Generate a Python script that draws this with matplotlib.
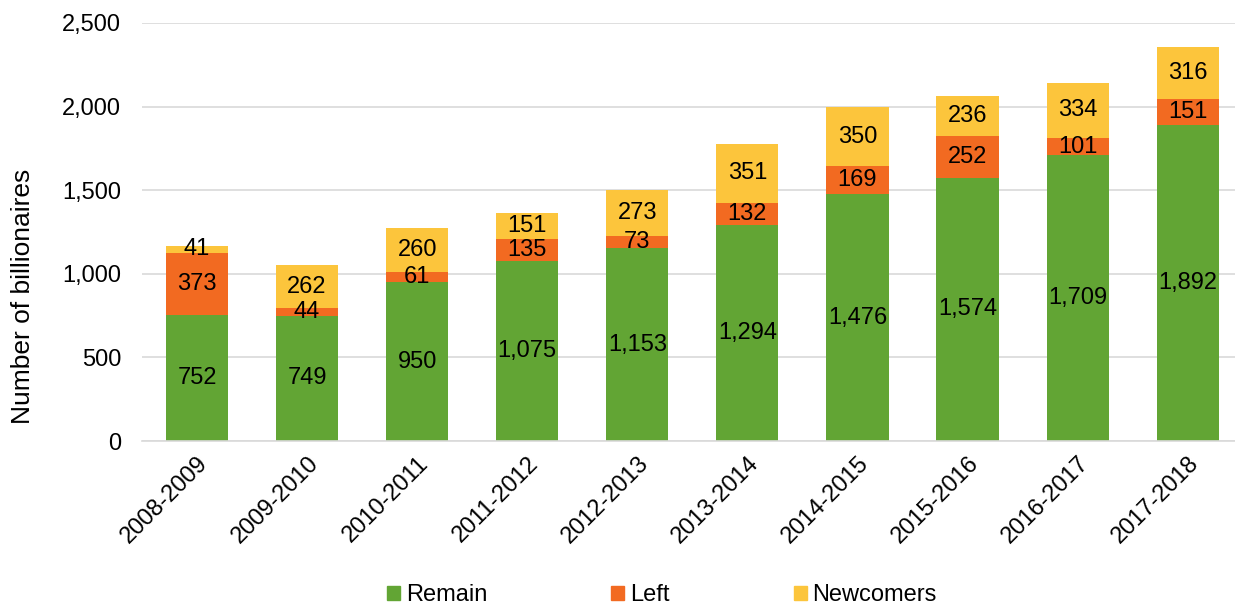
import matplotlib
matplotlib.use("Agg")
import matplotlib.pyplot as plt
from matplotlib.patches import Patch

periods = ["2008-2009", "2009-2010", "2010-2011", "2011-2012", "2012-2013",
           "2013-2014", "2014-2015", "2015-2016", "2016-2017", "2017-2018"]
remain = [752, 749, 950, 1075, 1153, 1294, 1476, 1574, 1709, 1892]
left = [373, 44, 61, 135, 73, 132, 169, 252, 101, 151]
newcomers = [41, 262, 260, 151, 273, 351, 350, 236, 334, 316]

c_remain = "#62A534"
c_left = "#F26A21"
c_new = "#FCC53C"

plt.rcParams['font.family'] = ['Liberation Sans', 'DejaVu Sans']

fig = plt.figure(figsize=(12.35, 6.08), dpi=100)
ax = fig.add_axes([142/1235, (608-441)/608, (1235-142)/1235, 418/608])

x = list(range(len(periods)))
w = 0.565
bottoms2 = [r + l for r, l in zip(remain, left)]
ax.bar(x, remain, w, color=c_remain, zorder=3)
ax.bar(x, left, w, bottom=remain, color=c_left, zorder=3)
ax.bar(x, newcomers, w, bottom=bottoms2, color=c_new, zorder=3)

fs = 17
for i in x:
    ax.text(i, remain[i] / 2, f"{remain[i]:,}", ha="center", va="center", fontsize=fs, zorder=4)
    ax.text(i, remain[i] + left[i] / 2, f"{left[i]:,}", ha="center", va="center", fontsize=fs, zorder=4)
    ax.text(i, bottoms2[i] + newcomers[i] / 2, f"{newcomers[i]:,}", ha="center", va="center", fontsize=fs, zorder=4)

yt = [0, 500, 1000, 1500, 2000, 2500]
ax.set_ylim(0, 2500)
ax.set_xlim(-0.5, 9.43)
ax.set_yticks(yt)
ax.set_yticklabels([f"{v:,}" for v in yt], fontsize=fs)
ax.set_xticks(x)
ax.set_xticklabels(periods, rotation=45, ha="right", rotation_mode="anchor", fontsize=fs)
ax.tick_params(axis="both", length=0)
ax.tick_params(axis="y", pad=15)
ax.tick_params(axis="x", pad=8)
ax.grid(axis="y", color="#D9D9D9", linewidth=1.2, zorder=0)
for s in ["top", "right", "left"]:
    ax.spines[s].set_visible(False)
ax.spines["bottom"].set_color("#D9D9D9")
ax.spines["bottom"].set_linewidth(1.2)
ax.spines["bottom"].set_zorder(5)
ax.set_ylabel("Number of billionaires", fontsize=19)
ax.yaxis.set_label_coords(-0.098, 0.347)

handles = [Patch(color=c_remain), Patch(color=c_left), Patch(color=c_new)]
fig.legend(handles, ["Remain", "Left", "Newcomers"], loc="center", bbox_to_anchor=(0.536, 0.021),
           ncol=3, frameon=False, fontsize=fs, handlelength=0.55, handleheight=0.55,
           columnspacing=5.25, handletextpad=0.25)

fig.savefig("out.png", dpi=100)
